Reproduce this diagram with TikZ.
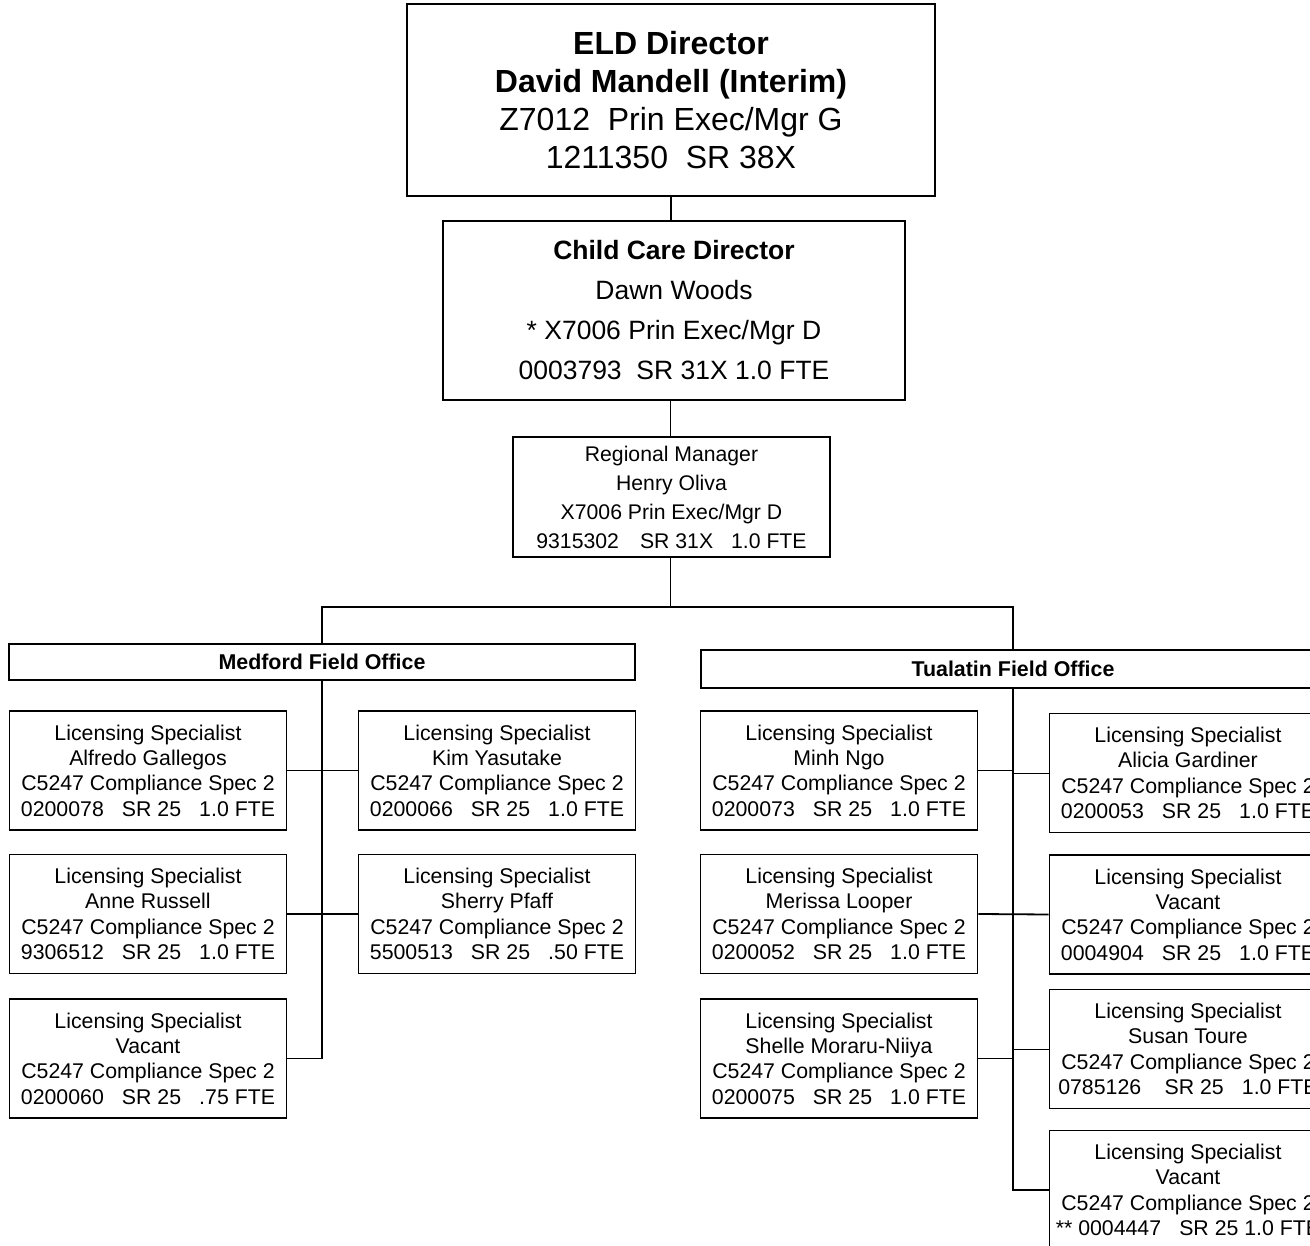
\documentclass[tikz,border=0pt]{standalone}
\usepackage{fontspec}
\setmainfont{Liberation Sans}
\newcommand{\TopFont}{\fontsize{32pt}{38pt}\selectfont}
\newcommand{\DirFont}{\fontsize{26.5pt}{40pt}\selectfont}
\newcommand{\MgrFont}{\fontsize{21.2pt}{29pt}\selectfont}
\newcommand{\SpecFont}{\fontsize{21.3pt}{25.3pt}\selectfont}
\newcommand{\OfficeFont}{\fontsize{21.4pt}{22pt}\selectfont\bfseries}
\newcommand{\fieldgap}{\hspace{0.85em}}
\newcommand{\SpecText}[2]{Licensing Specialist\\#1\\C5247 Compliance Spec 2\\#2}
\tikzset{
  chartbox/.style={draw, line width=1.8pt, inner sep=0pt, align=center},
  specbox/.style={chartbox, minimum width=277, minimum height=119, font=\SpecFont},
  officebox/.style={chartbox, minimum height=36, font=\OfficeFont},
  link/.style={line width=1.8pt},
  thinlink/.style={line width=0.9pt}
}

\begin{document}
\begin{tikzpicture}[x=1pt, y=-1pt]
  \useasboundingbox (0,0) rectangle (1310,1246);
  \clip (0,0) rectangle (1310,1246);
  % directors
  \node[chartbox, minimum width=528, minimum height=192, font=\TopFont] (eld) at (671,100)
    {\textbf{ELD Director}\\\textbf{David Mandell (Interim)}\\Z7012~~Prin Exec/Mgr G\\1211350~~SR 38X};
  \node[chartbox, minimum width=462, minimum height=179, font=\DirFont] (ccd) at (674,310.5)
    {\textbf{Child Care Director}\\Dawn Woods\\* X7006 Prin Exec/Mgr D\\0003793~~SR 31X 1.0 FTE};
  \node[chartbox, minimum width=317, minimum height=120, font=\MgrFont] (rm) at (671.5,497)
    {Regional Manager\\Henry Oliva\\X7006 Prin Exec/Mgr D\\9315302\hspace{1em}SR 31X\hspace{0.85em}1.0 FTE};
  % field offices
  \node[officebox, minimum width=626] (medford) at (322,662) {Medford Field Office};
  \node[officebox, minimum width=624, minimum height=38] (tualatin) at (1013,669) {Tualatin Field Office};
  % licensing specialists
  \foreach \id/\cx/\cy/\who/\num in {
      ma/148/770.5/Alfredo Gallegos/0200078\fieldgap SR 25\fieldgap 1.0 FTE,
      mr/148/914/Anne Russell/9306512\fieldgap SR 25\fieldgap 1.0 FTE,
      mv/148/1058.5/Vacant/0200060\fieldgap SR 25\fieldgap .75 FTE,
      mk/497/770.5/Kim Yasutake/0200066\fieldgap SR 25\fieldgap 1.0 FTE,
      mp/497/914/Sherry Pfaff/5500513\fieldgap SR 25\fieldgap .50 FTE,
      tm/839/770.5/Minh Ngo/0200073\fieldgap SR 25\fieldgap 1.0 FTE,
      tl/839/914/Merissa Looper/0200052\fieldgap SR 25\fieldgap 1.0 FTE,
      ts/839/1058.5/Shelle Moraru-Niiya/0200075\fieldgap SR 25\fieldgap 1.0 FTE,
      ta/1188/773/Alicia Gardiner/0200053\fieldgap SR 25\fieldgap 1.0 FTE,
      tv/1188/914.5/Vacant/0004904\fieldgap SR 25\fieldgap 1.0 FTE,
      tt/1188/1049/Susan Toure/0785126\hspace{1.1em}SR 25\fieldgap 1.0 FTE,
      tw/1188/1190/Vacant/** 0004447\fieldgap SR 25 1.0 FTE}
    \node[specbox] (\id) at (\cx,\cy) {\SpecText{\who}{\num}};
  % reporting lines
  \coordinate (bus) at (670.5,607);
  \draw[link] (eld.south) -- (eld.south |- ccd.north);
  \draw[link] (ccd.south -| bus) -- (bus |- rm.north);
  \draw[link] (bus |- rm.south) -- (bus);
  \draw[link] (medford.north) |- (bus) -| (tualatin.north);
  \draw[link] (medford.south) |- (mv.east);
  \draw[link] (ma.east) -- (mk.west);
  \draw[link] (mr.east) -- (mp.west);
  \draw[link] (tualatin.south) |- (tw.west);
  \draw[link] (tm.east) -- (tm.east -| tualatin.south);
  \draw[thinlink] (ta.west) -- (ta.west -| tualatin.south);
  \draw[link] (tl.east) -- (tv.west);
  \draw[link] (ts.east) -- (ts.east -| tualatin.south);
  \draw[thinlink] (tt.west) -- (tt.west -| tualatin.south);
\end{tikzpicture}
\end{document}
